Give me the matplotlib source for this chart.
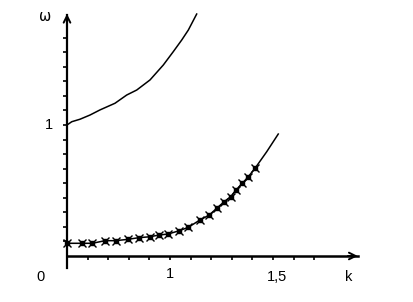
import numpy as np
import matplotlib
matplotlib.use("Agg")
from matplotlib import pyplot as plt

# upper branch (solid line)
k_up = [0.0, 0.046, 0.126, 0.223, 0.320, 0.466, 0.580, 0.677, 0.806, 0.935,
        1.032, 1.114, 1.178, 1.259]
w_up = [1.0, 1.025, 1.044, 1.076, 1.115, 1.166, 1.229, 1.267, 1.344, 1.458,
        1.560, 1.649, 1.725, 1.847]

# lower branch, computed points (stars)
k_pts = [0.0, 0.143, 0.246, 0.369, 0.473, 0.589, 0.699, 0.806, 0.893, 0.983,
         1.090, 1.178, 1.291, 1.382, 1.453, 1.527, 1.589, 1.641, 1.702, 1.760,
         1.825]
w_pts = [0.097, 0.097, 0.097, 0.117, 0.117, 0.127, 0.140, 0.147, 0.160, 0.168,
         0.193, 0.219, 0.275, 0.313, 0.364, 0.415, 0.453, 0.504, 0.555, 0.605,
         0.669]
# lower branch continued (line only)
k_low = k_pts + [1.939, 2.051]
w_low = w_pts + [0.796, 0.931]

x_ticks = np.arange(1, 13) * 0.2
y_ticks = np.arange(1, 16) / 9.0

fig = plt.figure(figsize=(4.14, 3.02), dpi=100)
ax = fig.add_axes([0, 0, 1, 1])
ax.set_xlim(-67 / 103., 347 / 103.)
ax.set_ylim(-46 / 131., 256 / 131.)

for s in ["top", "right"]:
    ax.spines[s].set_visible(False)
ax.spines["left"].set_position(("data", 0))
ax.spines["bottom"].set_position(("data", 0))
ax.spines["left"].set_bounds(-0.09, 1.84)
ax.spines["bottom"].set_bounds(0, 2.83)
ax.spines["left"].set_linewidth(1.6)
ax.spines["bottom"].set_linewidth(1.8)

ax.set_xticks(x_ticks)
ax.set_yticks(y_ticks)
ax.set_xticklabels([])
ax.set_yticklabels([])
ax.tick_params(direction="out", length=3, width=1.2, color="black")

# arrow heads
ax.annotate("", xy=(2.85, 0), xytext=(2.7, 0),
            arrowprops=dict(arrowstyle="->", lw=1.4, color="black",
                            mutation_scale=12))
ax.annotate("", xy=(0, 1.87), xytext=(0, 1.75),
            arrowprops=dict(arrowstyle="->", lw=1.4, color="black",
                            mutation_scale=12))

ax.plot(k_up, w_up, "k-", lw=1.1)
ax.plot(k_low, w_low, "k-", lw=1.1)
ax.plot(k_pts, w_pts, "kx", ms=5.5, mew=1.0)
ax.plot(k_pts, w_pts, "ks", ms=2.5)

fs = 10.5
ax.text(-0.21, 1.83, "ω", fontsize=fs, ha="center", va="center",
        family="DejaVu Sans")
ax.text(-0.18, 1.0, "1", fontsize=fs, ha="center", va="center",
        family="Liberation Sans")
ax.text(-0.26, -0.16, "0", fontsize=fs, ha="center", va="center",
        family="Liberation Sans")
ax.text(1.0, -0.14, "1", fontsize=fs, ha="center", va="center",
        family="Liberation Sans")
ax.text(2.04, -0.16, "1,5", fontsize=fs, ha="center", va="center",
        family="Liberation Sans")
ax.text(2.73, -0.16, "k", fontsize=fs, ha="center", va="center",
        family="Liberation Sans")

fig.savefig("out.png", dpi=100)
